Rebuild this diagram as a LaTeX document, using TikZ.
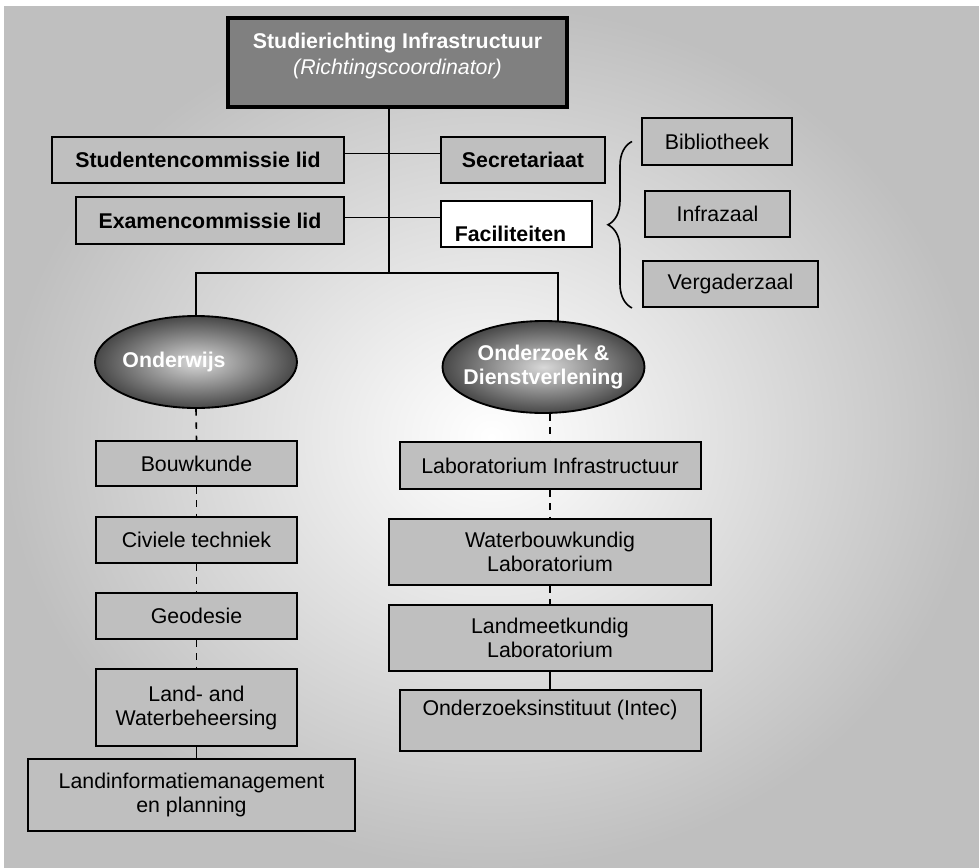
\documentclass[tikz,border=0pt]{standalone}
\usepackage{fontspec}
\setmainfont{Liberation Sans}
\usetikzlibrary{shapes.geometric,decorations.pathreplacing}
\begin{document}
\begin{tikzpicture}[x=0.75pt,y=-0.75pt,
  box/.style={draw,line width=1.5pt,fill=black!25,inner sep=0pt,align=center,font=\fontsize{16}{18}\selectfont},
  bbox/.style={box,font=\fontsize{16}{18}\selectfont\bfseries},
  oval/.style={ellipse,draw,line width=1.4pt,inner color=black!15,outer color=black!72,minimum width=151.5pt,minimum height=69pt,inner sep=0pt},
  link/.style={line width=1.2pt},
  dlink/.style={link,dash pattern=on 5pt off 5pt}]
\useasboundingbox (0,0) rectangle (979,868);
\fill[white] (0,0) rectangle (979,868);
\shade[inner color=white,outer color=black!25] (4,6) rectangle (979,868);

\node[box,fill=black!50,line width=3.5pt,minimum width=254.25pt,minimum height=66.75pt,
  label={[yshift=5pt,text=white,align=center,font=\fontsize{16}{19}\selectfont]center:\textbf{Studierichting Infrastructuur}\\\textit{(Richtingscoordinator)}}] (top) at (397.5,62.5) {};
\node[bbox,minimum width=219pt,minimum height=34.5pt] (stud) at (198,160) {Studentencommissie lid};
\node[bbox,minimum width=123pt,minimum height=34.5pt] (secr) at (523,160) {Secretariaat};
\node[bbox,minimum width=201pt,minimum height=35.25pt] (exam) at (210,220.5) {Examencommissie lid};
\node[bbox,fill=white,minimum width=113.25pt,minimum height=34.5pt,
  label={[xshift=-4.5pt,yshift=-7.5pt,font=\fontsize{16}{18}\selectfont\bfseries]center:Faciliteiten}] (fac) at (516.5,224) {};
\node[box,minimum width=112.5pt,minimum height=35.25pt] (bib) at (717,141.5) {Bibliotheek};
\node[box,minimum width=108.75pt,minimum height=34.5pt] (infra) at (717.5,214) {Infrazaal};
\node[box,minimum width=131.25pt,minimum height=34.5pt] (verg) at (730.5,284) {Vergaderzaal};

\coordinate (split) at (389,273);
\draw[link] (top.south -| split) -- (split);
\draw[link] ([yshift=5pt]stud.east) -- ([yshift=5pt]stud.east -| secr.west);
\draw[link] ([yshift=2.2pt]exam.east) -- ([yshift=2.2pt]exam.east -| fac.west);
\coordinate (bt) at ([xshift=-7.5pt]verg.south west);
\draw[decorate,decoration={brace,amplitude=18pt},line width=1.2pt] (bt) -- (bt |- bib.center);

\node[oval,label={[xshift=-16.5pt,text=white,font=\fontsize{16}{18}\selectfont\bfseries]center:Onderwijs}] (ondw) at (196,362) {};
\node[oval,label={[text=white,align=center,font=\fontsize{16}{18}\selectfont\bfseries]center:Onderzoek \&\\Dienstverlening}] (ondz) at (543.5,367) {};
\draw[link] (ondw.north) |- (split) -| (ondz.73);

\node[box,minimum width=150.75pt,minimum height=33.75pt] (bouw) at (196.5,463.5) {Bouwkunde};
\node[box,minimum width=150.75pt,minimum height=34.5pt] (civ) at (196.5,540) {Civiele techniek};
\node[box,minimum width=150.75pt,minimum height=34.5pt] (geo) at (196.5,616) {Geodesie};
\node[box,minimum width=150.75pt,minimum height=57.75pt] (lw) at (196.5,707.5) {Land- and\\Waterbeheersing};
\node[box,minimum width=245.25pt,minimum height=54pt] (lim) at (191.5,795) {Landinformatiemanagement\\en planning};
\draw[dlink] (ondw.south) -- (bouw.north);
\draw[dlink] (bouw.south) -- (civ.north);
\draw[dlink] (civ.south) -- (geo.north);
\draw[dlink] (geo.south) -- (lw.north);
\draw[link] (lw.south) -- (lw.south |- lim.north);

\node[box,minimum width=225.75pt,minimum height=35.25pt] (labi) at (550,465.5) {Laboratorium Infrastructuur};
\node[box,minimum width=241.5pt,minimum height=49.5pt] (wbl) at (550,552) {Waterbouwkundig\\Laboratorium};
\node[box,minimum width=242.25pt,minimum height=49.5pt] (lml) at (550,638) {Landmeetkundig\\Laboratorium};
\node[box,minimum width=225.75pt,minimum height=45.75pt,
  label={[yshift=7.9pt,font=\fontsize{16}{18}\selectfont]center:Onderzoeksinstituut (Intec)}] (oi) at (550,720.5) {};
\draw[dlink] (labi.north |- ondz.south) -- (labi.north);
\draw[dlink] (labi.south) -- (wbl.north);
\draw[dlink] (wbl.south) -- (lml.north);
\draw[link] (lml.south) -- (oi.north);
\end{tikzpicture}
\end{document}
